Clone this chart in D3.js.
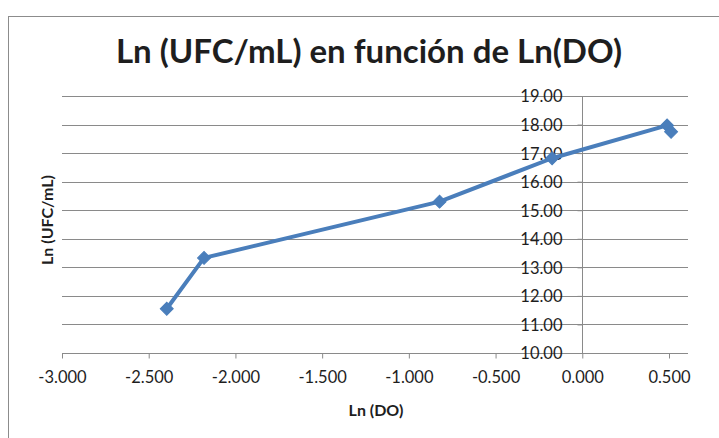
<!DOCTYPE html>
<html>
<head>
<meta charset="utf-8">
<script src="https://cdn.jsdelivr.net/npm/d3@7"></script>
<style>
  html, body { margin: 0; padding: 0; background: #fff; }
  svg { display: block; }
  text { font-family: Lato, "Open Sans", sans-serif; fill: #1e1e1e; }
</style>
</head>
<body>
<svg id="chart" width="719" height="438"></svg>
<script>
// Ln(DO) vs Ln(UFC/mL) measurements
const lnDO  = [-2.396, -2.181, -0.823, -0.174, 0.489, 0.512];
const lnUFC = [11.55, 13.33, 15.30, 16.82, 17.97, 17.75];

const xTicks = [-3.0, -2.5, -2.0, -1.5, -1.0, -0.5, 0.0, 0.5];
const yTicks = [10, 11, 12, 13, 14, 15, 16, 17, 18, 19];

const titleText = "Ln (UFC/mL) en función de Ln(DO)";
const xTitle = "Ln (DO)";
const yTitle = "Ln (UFC/mL)";

const svg = d3.select("#chart");
const labelFont = "Lato, 'Open Sans', sans-serif";

// chart frame (left and top edges visible)
svg.append("rect")
  .attr("x", 8.5).attr("y", 16.5)
  .attr("width", 740).attr("height", 460)
  .attr("fill", "#fff").attr("stroke", "#8c8c8c").attr("stroke-width", 1);

const plotLeft = 62, plotRight = 688, plotTop = 96, plotBottom = 353;

const x = d3.scaleLinear().domain([-3, 0.5]).range([plotLeft, 669]);
const y = d3.scaleLinear().domain([10, 19]).range([plotBottom, plotTop]);

// horizontal gridlines
svg.append("g")
  .selectAll("line")
  .data(yTicks.slice(1))
  .join("line")
  .attr("x1", plotLeft).attr("x2", plotRight)
  .attr("y1", d => Math.round(y(d)) + 0.5).attr("y2", d => Math.round(y(d)) + 0.5)
  .attr("stroke", "#8a8a8a").attr("stroke-width", 1);

// x axis at y = 10
const xAxis = d3.axisBottom(x)
  .tickValues(xTicks)
  .tickSize(5)
  .tickPadding(13)
  .tickFormat(d3.format(".3f"));
const gx = svg.append("g")
  .attr("transform", `translate(0,${Math.round(y(10)) + 0.5})`)
  .call(xAxis);
gx.select(".domain").attr("d", `M${plotLeft},0H${plotRight}`).attr("stroke", "#8a8a8a");
gx.selectAll(".tick line").attr("stroke", "#8a8a8a");
gx.selectAll(".tick text")
  .attr("font-size", 16.5)
  .style("font-family", labelFont)
  .attr("fill", "#1e1e1e")
  .text(d => d3.format(".3f")(d).replace("−", "-"));

// y axis crossing at x = 0
const yAxis = d3.axisLeft(y)
  .tickValues(yTicks)
  .tickSize(5)
  .tickPadding(15)
  .tickFormat(d3.format(".2f"));
const gy = svg.append("g")
  .attr("transform", `translate(${Math.round(x(0)) + 0.5},0)`)
  .call(yAxis);
gy.select(".domain").attr("d", `M0,${plotTop}V${plotBottom}`).attr("stroke", "#8a8a8a");
gy.selectAll(".tick line").attr("stroke", "#8a8a8a");
gy.selectAll(".tick text")
  .attr("font-size", 16.5)
  .attr("dy", "0.36em")
  .style("font-family", labelFont)
  .attr("fill", "#1e1e1e");

// data series
const pts = lnDO.map((d, i) => [d, lnUFC[i]]);
svg.append("path")
  .datum(pts)
  .attr("fill", "none")
  .attr("stroke", "#4a7ebb")
  .attr("stroke-width", 4)
  .attr("stroke-linejoin", "round")
  .attr("d", d3.line().x(d => x(d[0])).y(d => y(d[1])));

svg.append("g")
  .selectAll("path")
  .data(pts)
  .join("path")
  .attr("transform", d => `translate(${x(d[0])},${y(d[1])}) rotate(45)`)
  .attr("d", d3.symbol(d3.symbolSquare, 84))
  .attr("fill", "#4a7ebb")
  .attr("stroke", "#4a7ebb")
  .attr("stroke-width", 1);

// titles
svg.append("text")
  .attr("x", 369).attr("y", 63)
  .attr("text-anchor", "middle")
  .attr("font-size", 33)
  .attr("font-weight", "bold")
  .text(titleText);

svg.append("text")
  .attr("x", 376).attr("y", 416)
  .attr("text-anchor", "middle")
  .attr("font-size", 16)
  .attr("font-weight", "bold")
  .text(xTitle);

svg.append("text")
  .attr("transform", "translate(53,220) rotate(-90)")
  .attr("text-anchor", "middle")
  .attr("font-size", 16)
  .attr("font-weight", "bold")
  .text(yTitle);
</script>
</body>
</html>
